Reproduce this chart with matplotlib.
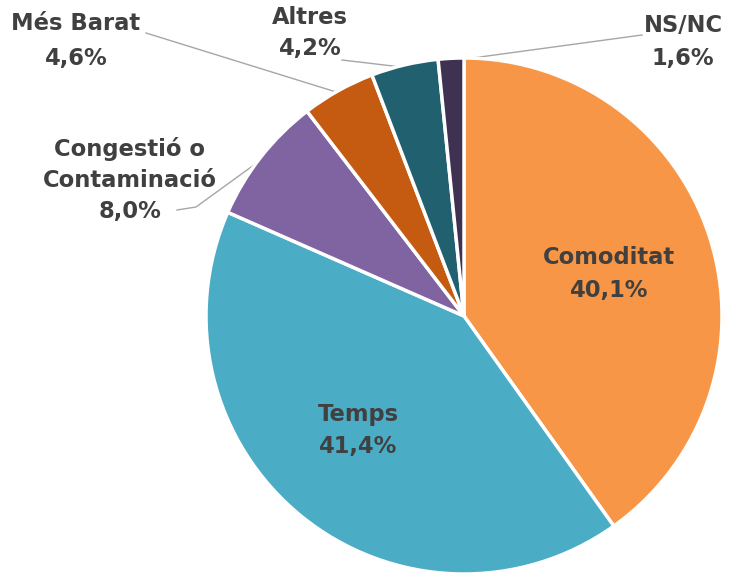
import matplotlib
matplotlib.use("Agg")
import matplotlib.pyplot as plt
import numpy as np

categories = ["Comoditat", "Temps", "Congestió o\nContaminació", "Més Barat", "Altres", "NS/NC"]
values = [40.1, 41.4, 8.0, 4.6, 4.2, 1.6]
value_labels = ["40,1%", "41,4%", "8,0%", "4,6%", "4,2%", "1,6%"]
colors = ["#F79646", "#4BACC6", "#8064A2", "#C55A11", "#21606F", "#3F3151"]

W, H = 736, 574
fig = plt.figure(figsize=(W / 100, H / 100), dpi=100)
ax = fig.add_axes([0, 0, 1, 1])

cx, cy, R = 464, H - 316, 258
wedges, _ = ax.pie(values, colors=colors, startangle=90, counterclock=False,
                   center=(cx, cy), radius=R, frame=True,
                   wedgeprops=dict(edgecolor="white", linewidth=2.5))
ax.set_xlim(0, W)
ax.set_ylim(0, H)
ax.set_aspect("equal")
ax.axis("off")

txt = dict(fontsize=16.3, fontweight="bold", color="#404040",
           family=["DejaVu Sans"], ha="center", va="center")

# label positions in pixel coordinates (x, y from top)
label_pos = [(609, 274), (358, 430), (130, 180), (76, 41), (310, 33), (683, 42)]
spacings = [1.54, 1.5, 1.45, 1.63, 1.45, 1.54]
line_start = [None, None, [(177, 210), (196, 207)], [(146, 33)], [(342, 60)], [(642, 35)]]

for w, cat, vl, pos, sp, ls in zip(wedges, categories, value_labels, label_pos, spacings, line_start):
    ax.text(pos[0], H - pos[1], f"{cat}\n{vl}", linespacing=sp, **txt)
    if ls is not None:
        ang = np.deg2rad((w.theta1 + w.theta2) / 2)
        ex = cx + R * 0.99 * np.cos(ang)
        ey = cy + R * 0.99 * np.sin(ang)
        xs = [p[0] for p in ls] + [ex]
        ys = [H - p[1] for p in ls] + [ey]
        ax.plot(xs, ys, color="#A6A6A6", lw=1.0, zorder=0.5)

fig.savefig("out.png", dpi=100)
